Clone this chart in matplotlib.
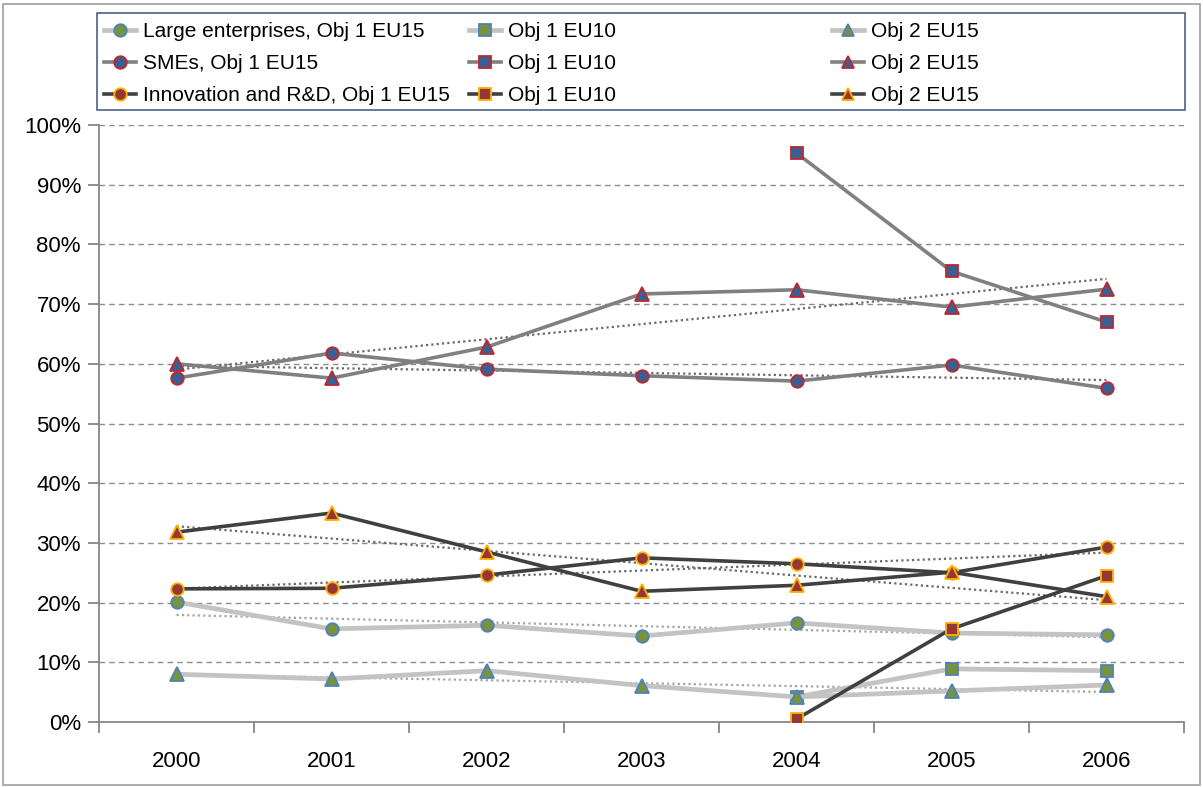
import matplotlib
matplotlib.use("Agg")
import matplotlib.pyplot as plt
from matplotlib.lines import Line2D
from matplotlib.patches import Rectangle
import numpy as np

plt.rcParams["font.family"] = ["Liberation Sans", "DejaVu Sans"]

years = ["2000", "2001", "2002", "2003", "2004", "2005", "2006"]

# shares (%), None = no value
large_eu15 = [20.1, 15.6, 16.2, 14.4, 16.6, 14.9, 14.6]
large_eu10 = [None, None, None, None, 4.2, 8.9, 8.6]
large_obj2 = [8.0, 7.2, 8.6, 6.1, 4.2, 5.2, 6.2]

sme_eu15 = [57.6, 61.8, 59.1, 58.0, 57.1, 59.8, 55.9]
sme_eu10 = [None, None, None, None, 95.3, 75.5, 67.0]
sme_obj2 = [60.0, 57.6, 62.8, 71.7, 72.4, 69.5, 72.5]

inno_eu15 = [22.3, 22.4, 24.6, 27.5, 26.5, 25.0, 29.3]
inno_eu10 = [None, None, None, None, 0.5, 15.6, 24.5]
inno_obj2 = [31.8, 35.0, 28.5, 21.9, 22.9, 25.1, 21.0]

labels = ["Large enterprises, Obj 1 EU15", "Obj 1 EU10", "Obj 2 EU15",
          "SMEs, Obj 1 EU15", "Obj 1 EU10", "Obj 2 EU15",
          "Innovation and R&D, Obj 1 EU15", "Obj 1 EU10", "Obj 2 EU15"]

groups = [
    # line colour, lw, marker face, marker edge, trend colour, series
    ("#c3c3c3", 3.4, "#77933c", "#4f81bd", "#a6a6a6", [large_eu15, large_eu10, large_obj2]),
    ("#808080", 2.6, "#3a5f93", "#c0262d", "#6a6a6a", [sme_eu15, sme_eu10, sme_obj2]),
    ("#404040", 2.6, "#953735", "#ffb000", "#6a6a6a", [inno_eu15, inno_eu10, inno_obj2]),
]
markers = ["o", "s", "^"]

W, H = 1203, 787
fig = plt.figure(figsize=(W / 100, H / 100), dpi=100)
ax = fig.add_axes([99 / W, (H - 722) / H, (1184 - 99) / W, (722 - 125) / H])

x = np.arange(len(years))
handles = []
for gi, (lc, lw, fc, ec, tc, series) in enumerate(groups):
    for si, vals in enumerate(series):
        xs = [i for i, v in enumerate(vals) if v is not None]
        ys = [v for v in vals if v is not None]
        ax.plot(xs, ys, color=lc, lw=lw, marker=markers[si], ms=9 if si != 2 else 9.5,
                mfc=fc, mec=ec, mew=1.3, zorder=3 + gi, solid_joinstyle="round")
        if si != 1:
            k, b = np.polyfit(xs, ys, 1)
            ax.plot([xs[0], xs[-1]], [k * xs[0] + b, k * xs[-1] + b], color=tc,
                    lw=1.6, ls=(0, (1, 1.4)), zorder=2.5 + gi)
        handles.append(Line2D([], [], color=lc, lw=lw, marker=markers[si], ms=9,
                              mfc=fc, mec=ec, mew=1.3))

ax.set_xlim(-0.5, 6.5)
ax.set_ylim(0, 100)
ax.set_yticks(np.arange(0, 101, 10))
ax.set_yticklabels([f"{v}%" for v in range(0, 101, 10)], fontsize=16)
ax.set_xticks(x)
ax.set_xticklabels(years, fontsize=16)
ax.set_xticks(np.arange(-0.5, 7, 1), minor=True)
ax.tick_params(axis="x", which="major", length=0, pad=21)
ax.tick_params(axis="x", which="minor", length=8, color="#868686", width=1.3)
ax.tick_params(axis="y", length=8, color="#868686", width=1.3, pad=5)
for y in range(10, 101, 10):
    ax.axhline(y, color="#8c8c8c", lw=1, ls=(0, (4, 3)), zorder=1)
for s in ["top", "right"]:
    ax.spines[s].set_visible(False)
for s in ["left", "bottom"]:
    ax.spines[s].set_color("#868686")
    ax.spines[s].set_linewidth(1.3)

# legend, three evenly spaced columns inside one box
col_x = [104, 469, 832]
for c in range(3):
    hs = [handles[r * 3 + c] for r in range(3)]
    ls = [labels[r * 3 + c] for r in range(3)]
    fig.legend(hs, ls, loc="upper left", bbox_to_anchor=(col_x[c] / W, 1 - 22 / H),
               frameon=False, fontsize=15, handlelength=1.55, handletextpad=0.3,
               borderpad=0, borderaxespad=0, labelspacing=0.62, numpoints=1)
fig.add_artist(Rectangle((97 / W, 1 - 110 / H), (1185 - 97) / W, 97 / H,
                         transform=fig.transFigure, fill=False, ec="#4a6184", lw=1.2))
fig.add_artist(Rectangle((3 / W, 2 / H), (1200 - 3) / W, (784 - 3) / H,
                         transform=fig.transFigure, fill=False, ec="#a0a0a0", lw=1.2))

fig.savefig("out.png", dpi=100)
